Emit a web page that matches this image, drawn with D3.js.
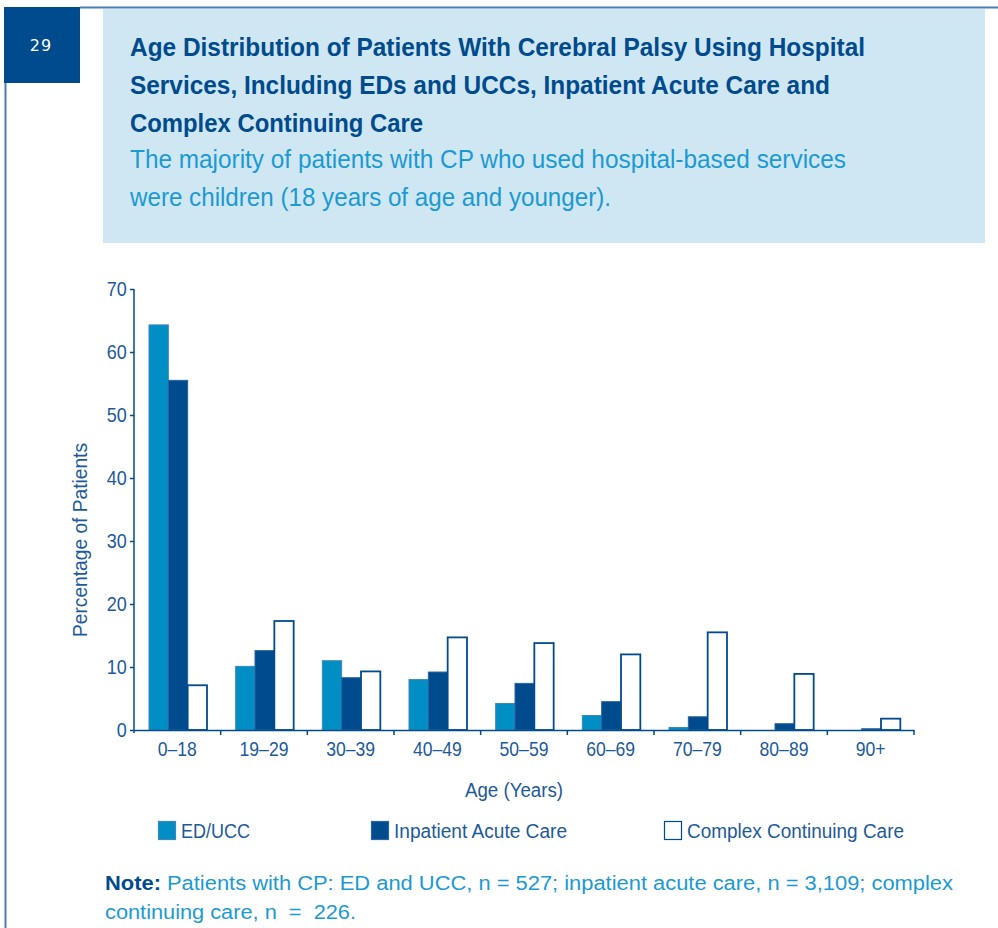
<!DOCTYPE html>
<html>
<head>
<meta charset="utf-8">
<script src="https://cdn.jsdelivr.net/npm/d3@7/dist/d3.min.js"></script>
<style>
  body { margin: 0; background: #fff; }
  svg { display: block; }
  text { font-family: "Liberation Sans", Arial, sans-serif; }
</style>
</head>
<body>
<div id="chart"></div>
<script>
(function(){
    // chart data
    var categories = ["0–18", "19–29", "30–39", "40–49", "50–59", "60–69", "70–79", "80–89", "90+"];
    var seriesNames = ["ED/UCC", "Inpatient Acute Care", "Complex Continuing Care"];
    var edUcc     = [64.3, 10.1, 11.0, 8.0, 4.2, 2.3, 0.4, 0.0, 0.0];
    var inpatient = [55.5, 12.6, 8.3, 9.2, 7.4, 4.5, 2.1, 1.0, 0.2];
    var complex   = [7.1, 17.3, 9.3, 14.7, 13.8, 12.0, 15.5, 8.9, 1.8];
    var yTicks = [0, 10, 20, 30, 40, 50, 60, 70];

    var dark = "#004b8d", light = "#008fc5", textBlue = "#1d5a9b", subBlue = "#1b9ad2";

    var width = 998, height = 928;
    var svg = d3.select("#chart").append("svg")
        .attr("width", width)
        .attr("height", height);

    // squeeze text horizontally to mimic the condensed face of the original
    function fit(sel, w) {
        sel.attr("textLength", w).attr("lengthAdjust", "spacingAndGlyphs");
        return sel;
    }

    // page frame: number box, top rule, left rule
    svg.append("rect").attr("x", 4).attr("y", 7).attr("width", 76).attr("height", 76).attr("fill", dark);
    svg.append("text").attr("x", 41).attr("y", 51).attr("text-anchor", "middle")
        .style("font-family", "'DejaVu Sans', sans-serif").style("font-size", "16px")
        .style("letter-spacing", "1px")
        .attr("fill", "#fff").text("29");
    svg.append("line").attr("x1", 80).attr("x2", 998).attr("y1", 7.5).attr("y2", 7.5)
        .attr("stroke", "#4a7fb5").attr("stroke-width", 2);
    svg.append("line").attr("x1", 5.5).attr("x2", 5.5).attr("y1", 83).attr("y2", 928)
        .attr("stroke", "#4a7fb5").attr("stroke-width", 2);

    // header box
    svg.append("rect").attr("x", 103).attr("y", 9).attr("width", 882).attr("height", 234).attr("fill", "#cfe7f2");

    var titleLines = ["Age Distribution of Patients With Cerebral Palsy Using Hospital",
                      "Services, Including EDs and UCCs, Inpatient Acute Care and",
                      "Complex Continuing Care"];
    var titleW = [735, 700, 293];
    svg.selectAll(".title").data(titleLines).enter().append("text")
        .attr("class", "title")
        .attr("x", 130)
        .attr("y", function(d, i) { return 56 + i * 38; })
        .attr("textLength", function(d, i) { return titleW[i]; })
        .attr("lengthAdjust", "spacingAndGlyphs")
        .style("font-size", "26px").style("font-weight", "bold")
        .attr("fill", dark)
        .text(function(d) { return d; });

    var subLines = ["The majority of patients with CP who used hospital-based services",
                    "were children (18 years of age and younger)."];
    var subW = [716, 481];
    svg.selectAll(".sub").data(subLines).enter().append("text")
        .attr("class", "sub")
        .attr("x", 130)
        .attr("y", function(d, i) { return 168 + i * 38; })
        .attr("textLength", function(d, i) { return subW[i]; })
        .attr("lengthAdjust", "spacingAndGlyphs")
        .style("font-size", "25px")
        .attr("fill", subBlue)
        .text(function(d) { return d; });

    // scales
    var x0 = d3.scaleBand().domain(categories).range([134, 914]);
    var x1 = d3.scaleBand().domain(seriesNames).range([15, 73]);
    var y = d3.scaleLinear().domain([0, 70]).range([730, 289]);

    var rows = categories.map(function(c, i) {
        return { cat: c, vals: [edUcc[i], inpatient[i], complex[i]] };
    });
    var fills = [light, dark, "#fff"];
    var strokes = ["#3d86bd", "#2a64a3", dark];

    var g = svg.selectAll(".grp").data(rows).enter().append("g")
        .attr("class", "grp")
        .attr("transform", function(d) { return "translate(" + x0(d.cat) + ",0)"; });

    g.selectAll("rect").data(function(d) {
        return d.vals.map(function(v, k) { return { v: v, k: k }; });
    }).enter().append("rect")
        .filter(function(d) { return d.v > 0; })
        .attr("x", function(d) { return x1(seriesNames[d.k]); })
        .attr("width", x1.bandwidth())
        .attr("y", function(d) { return y(d.v); })
        .attr("height", function(d) { return y(0) - y(d.v); })
        .attr("fill", function(d) { return fills[d.k]; })
        .attr("stroke", function(d) { return strokes[d.k]; })
        .attr("stroke-width", function(d) { return d.k == 2 ? 1.8 : 1; });

    // y axis
    var yAxis = svg.append("g").attr("transform", "translate(134,0)")
        .call(d3.axisLeft(y).tickValues(yTicks).tickSize(4).tickPadding(4));
    yAxis.select(".domain").attr("stroke", dark).attr("stroke-width", 1.5)
        .attr("d", "M0,289V733");
    yAxis.selectAll(".tick line").attr("stroke", dark).attr("stroke-width", 1.5);
    yAxis.selectAll(".tick text")
        .style("font-family", "'Liberation Sans', sans-serif")
        .style("font-size", "20px").attr("fill", textBlue)
        .attr("transform", "scale(0.9,1)");

    // x axis
    var xAxis = svg.append("g").attr("transform", "translate(0,730)")
        .call(d3.axisBottom(x0).tickSize(0).tickPadding(12));
    xAxis.select(".domain").attr("stroke", dark).attr("stroke-width", 1.5);
    xAxis.selectAll(".tick text")
        .style("font-family", "'Liberation Sans', sans-serif")
        .style("font-size", "20px").attr("fill", textBlue)
        .attr("transform", "scale(0.88,1)")
        .attr("x", 0);
    // keep labels centred after the horizontal squeeze
    xAxis.selectAll(".tick").each(function(d) {
        d3.select(this).attr("transform", "translate(" + (x0(d) + x0.bandwidth() / 2) + ",0)");
    });
    // tick marks between the age groups
    svg.selectAll(".xtick").data(categories).enter().append("line")
        .attr("class", "xtick")
        .attr("x1", function(d) { return x0(d) + x0.bandwidth(); })
        .attr("x2", function(d) { return x0(d) + x0.bandwidth(); })
        .attr("y1", 730).attr("y2", 735)
        .attr("stroke", dark).attr("stroke-width", 1.5);

    // axis titles
    fit(svg.append("text").attr("x", 465).attr("y", 797)
        .style("font-size", "20px").attr("fill", textBlue).text("Age (Years)"), 98);
    fit(svg.append("text")
        .attr("transform", "translate(87,637) rotate(-90)")
        .style("font-size", "20px").attr("fill", textBlue).text("Percentage of Patients"), 194);

    // legend
    var legendX = [158, 371, 664];
    var legendW = [69, 173, 217];
    var lg = svg.selectAll(".leg").data(seriesNames).enter().append("g")
        .attr("class", "leg")
        .attr("transform", function(d, i) { return "translate(" + legendX[i] + ",821)"; });
    lg.append("rect").attr("x", 0.5).attr("y", 0.5).attr("width", 17).attr("height", 18)
        .attr("fill", function(d, i) { return fills[i]; })
        .attr("stroke", function(d, i) { return strokes[i]; })
        .attr("stroke-width", 1.2);
    lg.append("text").attr("x", 23).attr("y", 17)
        .attr("textLength", function(d, i) { return legendW[i]; })
        .attr("lengthAdjust", "spacingAndGlyphs")
        .style("font-size", "20px").attr("fill", textBlue)
        .text(function(d) { return d; });

    // note
    var note = fit(svg.append("text").attr("x", 105).attr("y", 890)
        .style("font-size", "20px"), 848);
    note.append("tspan").style("font-weight", "bold").attr("fill", dark).text("Note:");
    note.append("tspan").attr("fill", subBlue)
        .text(" Patients with CP: ED and UCC, n = 527; inpatient acute care, n = 3,109; complex");
    fit(svg.append("text").attr("x", 105).attr("y", 919)
        .style("font-size", "20px")
        .attr("fill", subBlue).attr("xml:space", "preserve")
        .text("continuing care, n  =  226."), 251);
})();
</script>
</body>
</html>
